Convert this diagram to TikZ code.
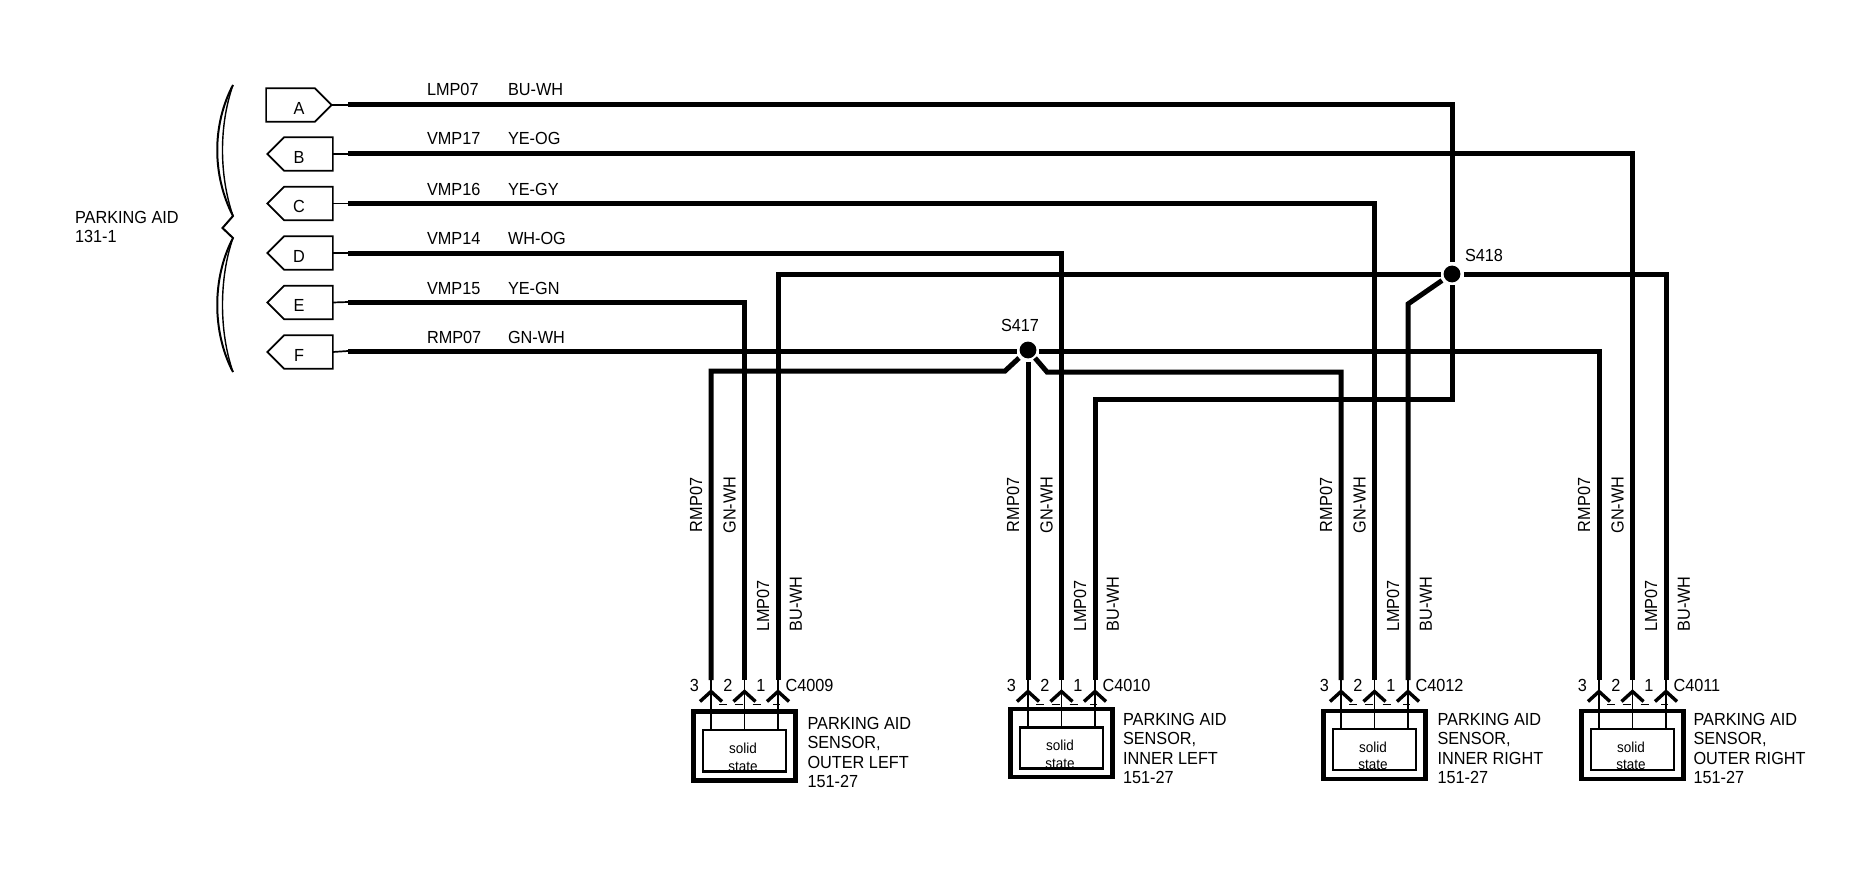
\documentclass[tikz,border=0pt]{standalone}
\usepackage{fontspec}
\setmainfont[FakeStretch=0.93]{Liberation Sans}
\usetikzlibrary{shapes.symbols,calc}
\tikzset{
  txt/.style={inner sep=0pt,outer sep=0pt,font=\fontsize{17.5}{20}\selectfont},
  wirelab/.style={txt,anchor=base west},
  vlab/.style={txt,rotate=90,anchor=center},
  tag/.style={draw,line width=1.7pt,signal,signal pointer angle=90,minimum width=65.5pt,minimum height=33.5pt,inner sep=0pt,outer sep=0pt},
  tagout/.style={tag,signal to=east,signal from=nowhere},
  tagin/.style={tag,signal to=west,signal from=nowhere},
  wire/.style={line width=5pt,line cap=butt,line join=miter},
  lead/.style={line width=1.7pt},
  chevron/.style={line width=3.4pt,line join=miter},
  tick/.style={line width=1.5pt},
  dot/.style={circle,fill=black,draw=none,minimum size=16.8pt,inner sep=0pt},
  outerbox/.style={draw,line width=4.2pt,inner sep=0pt},
  innerbox/.style={draw,line width=2.4pt,inner sep=0pt},
  small/.style={inner sep=0pt,font=\fontsize{14.5}{16}\selectfont}
}
\begin{document}
\begin{tikzpicture}[x=1pt,y=-1pt]
\useasboundingbox (0,0) rectangle (1864,880);

% harness tags
\node[tagout] (A) at (290.5,105) {};
\node[tagin]  (B) at (308.5,154) {};
\node[tagin]  (C) at (308.5,203.5) {};
\node[tagin]  (D) at (308.5,253) {};
\node[tagin]  (E) at (308.5,302.5) {};
\node[tagin]  (F) at (308.5,352) {};
\foreach \t/\y in {A/108,B/157,C/206.5,D/256,E/305.5,F/355}{
  \node[txt] (l\t) at (299,\y) {\t};
}
\coordinate (sA) at (348,105);
\coordinate (sB) at (348,154);
\coordinate (sC) at (348,203.5);
\coordinate (sD) at (348,253);
\coordinate (sE) at (348,302);
\coordinate (sF) at (348,351);
\foreach \t in {A,B,C,D,E,F}{ \draw[lead] (\t.east) -- (s\t); }

% brace
\draw[line width=2pt,line join=miter]
  (233,85) .. controls (212,125) and (212,175) .. (233,216)
  -- (222.5,228) -- (233,238)
  .. controls (212,278) and (212,332) .. (233,372);
\draw[line width=1.4pt]
  (233,85) .. controls (219,125) and (219,175) .. (233,216);
\draw[line width=1.4pt]
  (233,238) .. controls (219,278) and (219,332) .. (233,372);
\node[wirelab] (title1) at (75,223) {PARKING AID};
\node[wirelab] (title2) at (75,242) {131-1};

% wire labels
\foreach \n/\c/\y/\a/\b in {A/a/96/LMP07/BU-WH,B/b/145/VMP17/YE-OG,C/c/195/VMP16/YE-GY,D/d/244/VMP14/WH-OG,E/e/294/VMP15/YE-GN,F/f/343/RMP07/GN-WH}{
  \node[wirelab] (lc\c) at (427,\y) {\a};
  \node[wirelab] (lk\c) at (508,\y) {\b};
}

% sensor groups
\foreach \g/\x/\top/\bot/\itop/\ibot/\tx/\ty/\name/\l in {
  1/711/711.5/780.5/730/771.5/807.5/729/C4009/OUTER LEFT,
  2/1028/709/777/727.5/768.5/1123/725/C4010/INNER LEFT,
  3/1341/711/779/729/770/1437.5/725/C4012/INNER RIGHT,
  4/1599/711/779/729/770/1693.5/725/C4011/OUTER RIGHT}{
  \coordinate (p\g3) at (\x,680);
  \coordinate (p\g2) at (\x+33.5,680);
  \coordinate (p\g1) at (\x+67,680);
  \node[outerbox,minimum width=102pt,minimum height=\bot pt-\top pt] (o\g) at (\x+33.5,\top/2+\bot/2) {};
  \node[innerbox,minimum width=83.5pt,minimum height=\ibot pt-\itop pt] (i\g) at (\x+33.5,\itop/2+\ibot/2) {};
  \node[small] (so\g) at (\x+32,\itop+18) {solid};
  \node[small] (st\g) at (\x+32,\ibot-5) {state};
  \foreach \p in {1,2,3}{
    \draw[lead] (p\g\p) -- (p\g\p |- i\g.north);
    \draw[chevron] ($(p\g\p)+(-11,21.5)$) -- ($(p\g\p)+(0,11.5)$) -- ($(p\g\p)+(11,21.5)$);
  }
  \draw[tick] ($(p\g3)+(8,24.5)$) -- ++(8,0);
  \draw[tick] ($(p\g2)+(-10,24.5)$) -- ++(8,0);
  \draw[tick] ($(p\g2)+(8,24.5)$) -- ++(8,0);
  \draw[tick] ($(p\g1)+(-5,24.5)$) -- ++(7,0);
  \node[txt] (n\g3) at (\x-16.5,685) {3};
  \node[txt] (n\g2) at (\x+17,685) {2};
  \node[txt] (n\g1) at (\x+50,685) {1};
  \node[txt,anchor=west] (cn\g) at (\x+74.5,685) {\name};
  \node[wirelab] (ta\g) at (\tx,\ty) {PARKING AID};
  \node[wirelab] (tb\g) at (\tx,\ty+19.5) {SENSOR,};
  \node[wirelab] (tc\g) at (\tx,\ty+39) {\l};
  \node[wirelab] (td\g) at (\tx,\ty+58.5) {151-27};
  \node[vlab] (v\g a) at (\x-15,505) {RMP07};
  \node[vlab] (v\g b) at (\x+18.5,505) {GN-WH};
  \node[vlab] (v\g c) at (\x+52,606) {LMP07};
  \node[vlab] (v\g d) at (\x+85,604) {BU-WH};
}

% splices
\node[dot] (S417) at (1028,350) {};
\node[dot] (S418) at (1452,274) {};
\node[txt] (S417t) at (1020,325) {S417};
\node[txt] (S418t) at (1484,255) {S418};
\coordinate (S418n) at (1452,262);
\coordinate (S418s) at (1452,285);
\coordinate (S418w) at (1441,274);
\coordinate (S418e) at (1464,274);
\coordinate (S418d) at (1442,280.5);
\coordinate (S417w) at (1016.5,351);
\coordinate (S417e) at (1039,351);
\coordinate (S417s) at (1028,362);
\coordinate (S417l) at (1019,358);
\coordinate (S417r) at (1035,358);

% wires
\draw[wire] (sA) -| (S418n);
\draw[wire] (S418s) -- ++(0,114) -| (p21);
\draw[wire] (sB) -| (p42);
\draw[wire] (sC) -| (p32);
\draw[wire] (sD) -| (p22);
\draw[wire] (sE) -| (p12);
\draw[wire] (sF) -- (S417w);
\draw[wire] (S417e) -| (p43);
\draw[wire] (S418w) -| (p11);
\draw[wire] (S418e) -| (p41);
\draw[wire] (S418d) -- (p31 |- 0,304) -- (p31);
\draw[wire] (S417l) -- (1005,371) -| (p13);
\draw[wire] (S417s) -- (p23);
\draw[wire] (S417r) -- (1047,372) -| (p33);
\end{tikzpicture}
\end{document}
